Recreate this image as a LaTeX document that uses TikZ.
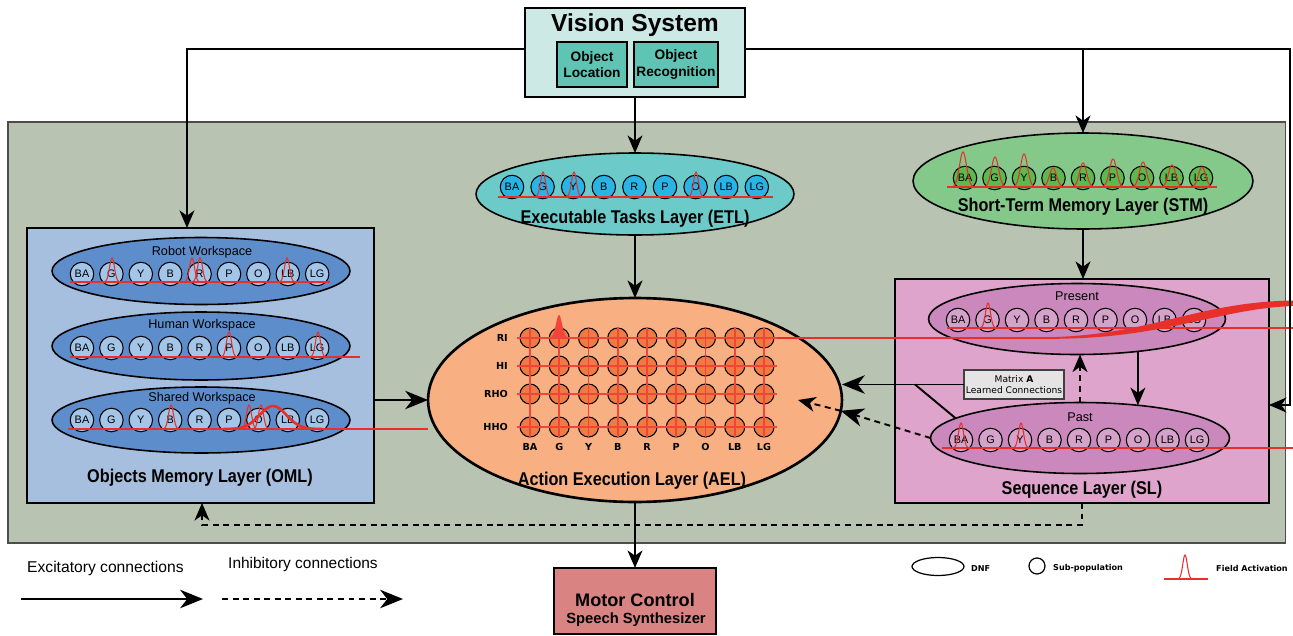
\documentclass[tikz,border=0pt]{standalone}
\usepackage{fontspec}
\setmainfont{Liberation Sans}
\newfontfamily\condf[FakeStretch=0.88]{Liberation Sans}
\newfontfamily\verdf{DejaVu Sans}
\usetikzlibrary{arrows.meta,shapes.geometric}
\definecolor{panel}{HTML}{B9C3B1}
\definecolor{panelborder}{HTML}{4D4D4D}
\definecolor{vsfill}{HTML}{CDE9E5}
\definecolor{vssub}{HTML}{5FC4B4}
\definecolor{etlell}{HTML}{6CCBC9}
\definecolor{etlsub}{HTML}{2AB4E6}
\definecolor{stmell}{HTML}{84C98A}
\definecolor{stmsub}{HTML}{5CB94D}
\definecolor{omlbox}{HTML}{A6BFDF}
\definecolor{omlell}{HTML}{5E8DCB}
\definecolor{omlsub}{HTML}{A3C5E8}
\definecolor{aelell}{HTML}{F8AF82}
\definecolor{aelsub}{HTML}{EF7B42}
\definecolor{gridred}{HTML}{F2453A}
\definecolor{slbox}{HTML}{DEA4CB}
\definecolor{slell}{HTML}{CA88BC}
\definecolor{slsub}{HTML}{D5A2CC}
\definecolor{matfill}{HTML}{E4E4E4}
\definecolor{motorfill}{HTML}{D98383}
\definecolor{actred}{HTML}{E8302A}
\newcommand\gpk[5][]{\draw[act,#1] plot[domain=-2.6:2.6,samples=41,smooth] ({#2+#5*(\x)},{#3-#4*exp(-(\x)*(\x))});}
\begin{document}
\begin{tikzpicture}[x=0.02cm,y=-0.02cm,
 lbox/.style={draw,line width=1.1pt,inner sep=0pt,outer sep=0pt,anchor=north west},
 dnf/.style={ellipse,draw,line width=0.9pt,inner sep=0pt,outer sep=0pt},
 subpop/.style={circle,draw,line width=0.6pt,inner sep=0pt,minimum size=0.47cm,font=\fontsize{6.2}{6.2}\selectfont},
 aelsubst/.style={circle,draw,line width=0.6pt,inner sep=0pt,minimum size=0.4cm,fill=aelsub},
 ltitle/.style={font=\condf\bfseries\fontsize{10.5}{11}\selectfont,anchor=base},
 wsl/.style={font=\fontsize{7.2}{8}\selectfont,anchor=base},
 act/.style={draw=actred,line width=0.6pt},
 gline/.style={draw=gridred,line width=1.1pt},
 arr/.style={-{Stealth[length=10pt,width=8.5pt,inset=3pt]},line width=1.1pt},
 arrbig/.style={-{Stealth[length=13pt,width=10.5pt,inset=4pt]},line width=1.1pt},
 dsh/.style={dash pattern=on 3.4pt off 2.6pt},
 lbl/.style={font=\verdf\bfseries\fontsize{5.5}{6}\selectfont},
 lblg/.style={font=\verdf\bfseries\fontsize{4.6}{6}\selectfont,anchor=base west},
]
\useasboundingbox (0,0) rectangle (1293,635);

% panel
\node[lbox,draw=panelborder,line width=0.8pt,fill=panel,minimum width=25.56cm,minimum height=8.42cm] (panel) at (8,122) {};

% vision system
\node[lbox,fill=vsfill,minimum width=4.4cm,minimum height=1.78cm] (vs) at (525,8) {};
\node[anchor=base,font=\bfseries\fontsize{14}{14}\selectfont] (vstitle) at (635,32) {Vision System};
\node[lbox,fill=vssub,minimum width=1.4cm,minimum height=0.9cm,align=center,font=\bfseries\fontsize{7.8}{9.2}\selectfont] (oloc) at (557,42) {Object\\Location};
\node[lbox,fill=vssub,minimum width=1.68cm,minimum height=0.9cm,align=center,font=\bfseries\fontsize{7.8}{9.2}\selectfont] (orec) at (634,42) {Object\\Recognition};

% ETL
\node[dnf,fill=etlell,minimum width=6.36cm,minimum height=1.64cm] (etl) at (635,194) {};
\foreach \lab [count=\i from 0] in {BA,G,Y,B,R,P,O,LB,LG}
  \node[subpop,fill=etlsub] (etl\lab) at ({512+30.6*\i},187) {\lab};
\node[ltitle] (etlt) at (635,223) {Executable Tasks Layer (ETL)};

% STM
\node[dnf,fill=stmell,minimum width=6.8cm,minimum height=1.92cm] (stm) at (1083,181) {};
\foreach \lab [count=\i from 0] in {BA,G,Y,B,R,P,O,LB,LG}
  \node[subpop,fill=stmsub] (stm\lab) at ({965+29.5*\i},178) {\lab};
\node[ltitle] (stmt) at (1083,211) {Short-Term Memory Layer (STM)};

% OML
\node[lbox,fill=omlbox,minimum width=6.94cm,minimum height=5.5cm] (oml) at (27,228) {};
\node[dnf,fill=omlell,minimum width=5.96cm,minimum height=1.34cm] (robot) at (201,271) {};
\node[dnf,fill=omlell,minimum width=5.96cm,minimum height=1.36cm] (human) at (201,346) {};
\node[dnf,fill=omlell,minimum width=5.96cm,minimum height=1.32cm] (shared) at (201,420) {};
\node[wsl] (robott) at (202,255) {Robot Workspace};
\node[wsl] (humant) at (202,328) {Human Workspace};
\node[wsl] (sharedt) at (202,401) {Shared Workspace};
\foreach \lab [count=\i from 0] in {BA,G,Y,B,R,P,O,LB,LG}{
  \node[subpop,fill=omlsub] (rw\lab) at ({82+29.4*\i},274) {\lab};
  \node[subpop,fill=omlsub] (hw\lab) at ({82+29.4*\i},348) {\lab};
  \node[subpop,fill=omlsub] (sw\lab) at ({82+29.4*\i},420) {\lab};
}
\node[ltitle] (omlt) at (200,482) {Objects Memory Layer (OML)};

% AEL
\node[dnf,line width=1.5pt,fill=aelell,minimum width=8.28cm,minimum height=4.08cm] (ael) at (635,400) {};
\foreach \r/\yy in {RI/338,HI/366,RHO/394,HHO/427}{
  \foreach \lab [count=\j from 0] in {BA,G,Y,B,R,P,O,LB,LG}
    \node[aelsubst] (ael\r\lab) at ({530+29.25*\j},\yy) {};
  \node[lbl,anchor=east] (row\r) at (514,\yy) {\r};
}
\foreach \lab [count=\j from 0] in {BA,G,Y,B,R,P,O,LB,LG}{
  \draw[gline] ({530+29.25*\j},327) -- ({530+29.25*\j},437);
  \node[lbl,anchor=base] (col\lab) at ({530+29.25*\j},450) {\lab};
}
\foreach \yy in {338,366,394,427}
  \draw[gline] (517,\yy) -- (777,\yy);
\fill[gridred] plot[domain=-2.4:2.4,samples=41,smooth] ({559+4.3*\x},{338-23*exp(-(\x)*(\x))}) -- cycle;
\node[ltitle] (aelt) at (632,485) {Action Execution Layer (AEL)};

% SL
\node[lbox,fill=slbox,minimum width=7.48cm,minimum height=4.48cm] (sl) at (895,279) {};
\node[dnf,fill=slell,minimum width=5.94cm,minimum height=1.42cm] (pres) at (1077,319) {};
\node[dnf,fill=slell,minimum width=5.98cm,minimum height=1.42cm] (past) at (1080,438) {};
\node[wsl] (prest) at (1077,300) {Present};
\node[wsl] (pastt) at (1080,421) {Past};
\foreach \lab [count=\i from 0] in {BA,G,Y,B,R,P,O,LB,LG}{
  \node[subpop,fill=slsub] (pr\lab) at ({958+29.5*\i},320) {\lab};
  \node[subpop,fill=slsub] (pa\lab) at ({961+29.5*\i},440) {\lab};
}
\node[ltitle] (slt) at (1082,494) {Sequence Layer (SL)};
\node[lbox,draw=black!75,line width=0.7pt,fill=matfill,minimum width=2cm,minimum height=0.58cm,align=center,font=\verdf\fontsize{5.2}{6.4}\selectfont] (mat) at (964,370) {Matrix \textbf{A}\\Learned Connections};

% motor
\node[lbox,fill=motorfill,minimum width=3.24cm,minimum height=1.32cm] (motor) at (554,568) {};
\node[anchor=base,font=\bfseries\fontsize{10.3}{11}\selectfont] (motort) at (635,606) {Motor Control};
\node[anchor=base,font=\bfseries\fontsize{8.4}{9}\selectfont] (speecht) at (636,623) {Speech Synthesizer};

% activations
\draw[act] (498,197) -- (773,197);
\gpk{543}{197}{25}{3.5}\gpk{574}{197}{25}{3.5}\gpk{696}{197}{25}{3.5}
\draw[act] (947,187) -- (1217,187);
\gpk{963}{187}{35}{5}\gpk{995}{187}{30}{5}\gpk{1024}{187}{33}{5}\gpk{1053}{187}{19}{5}\gpk{1083}{187}{24}{5}
\gpk{1113}{187}{28}{5}\gpk{1143}{187}{25}{5}\gpk{1172}{187}{22}{5}\gpk{1202}{187}{20}{5}
\draw[act] (70,282) -- (330,282);
\gpk{112}{282}{24}{3.5}\gpk{192}{282}{24}{3.5}\gpk{200}{282}{24}{3.5}\gpk{287}{282}{24}{3.5}
\draw[act,line width=0.75pt] (70,357) -- (360,357);
\gpk{229}{357}{25}{3.5}\gpk{318}{357}{25}{3.5}
\draw[act,line width=0.75pt] (68,429) -- (428,429);
\gpk{171}{429}{24}{3.5}\gpk{249}{429}{24}{3.5}\gpk{261}{429}{24}{3.5}
\gpk[line width=1.5pt]{273}{429}{23}{19}
\draw[act] (947,328) -- (1293,328);
\gpk{988}{328}{25}{3.5}
\draw[act] (942,448) -- (1293,448);
\gpk{961}{448}{25}{3.5}\gpk{1021}{448}{25}{3.5}
\draw[act,line width=0.8pt] (777,338) -- (1060,338);
\fill[actred] (1040,337.4) .. controls (1150,336.5) and (1195,302) .. (1293,300.5) -- (1293,306) .. controls (1215,309) and (1160,341) .. (1040,338.6) -- cycle;

% connectors
\coordinate (rt) at (1290,49);
\coordinate (rb) at (1290,405);
\coordinate (br) at (915,384.5);
\coordinate (inner) at (798,400);
\coordinate (bl) at (202,525);
\draw[arr] ([yshift=0.07cm]vs.west) -| ([xshift=-0.27cm]oml.north);
\draw[arr] ([yshift=0.07cm]vs.east) -- (rt) -- (rb) -- (rb -| sl.east);
\draw[arr] (rt -| stm.north) -- (stm.north);
\draw[arr] (vs.south) -- (etl.north);
\draw[arr] (etl.south) -- (ael.north);
\draw[arr] (stm.south) -- (stm.south |- sl.north);
\draw[arrbig] (ael.west -| oml.east) -- (ael.west);
\draw[arrbig] (mat.west) -- (mat.west -| ael.east);
\draw[line width=1.1pt] (br) -- (past.171);
\draw[arrbig,dsh] (past.west) -- (ael.-3.6);
\draw[arr,dsh] (ael.-3.6) -- (inner);
\draw[arr] (pres.-28) -- (pres.-28 |- past.30);
\draw[arr,dsh] (past.north) -- (past.north |- pres.south);
\draw[arr] (ael.south) -- (motor.north);
\draw[arr,dsh] (sl.south) |- (bl) -- (bl |- oml.south);

% legend
\node[anchor=base west,font=\fontsize{8.9}{10}\selectfont] (exc) at (21,572) {Excitatory connections};
\coordinate (e1) at (21,599); \coordinate (e2) at (203,599);
\draw[arrbig] (e1) -- (e2);
\node[anchor=base west,font=\fontsize{8.8}{10}\selectfont] (inh) at (222,568) {Inhibitory connections};
\coordinate (i1) at (222,599); \coordinate (i2) at (403,599);
\draw[arrbig,dsh] (i1) -- (i2);
\node[dnf,line width=0.7pt,minimum width=1.04cm,minimum height=0.36cm] (legdnf) at (938,566.5) {};
\node[lblg] (legdnft) at (965,571) {DNF};
\node[circle,draw,line width=0.7pt,minimum size=0.32cm,inner sep=0pt] (legsub) at (1037,566) {};
\node[lblg] (legsubt) at (1047,570) {Sub-population};
\draw[act] (1164,579) -- (1208,579);
\gpk{1185}{579}{24}{3.2}
\node[lblg] (legactt) at (1210,571) {Field Activation};
\end{tikzpicture}
\end{document}
